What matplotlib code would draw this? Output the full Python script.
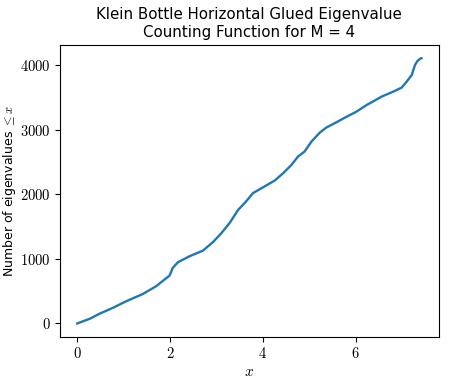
import matplotlib
matplotlib.use("Agg")
from matplotlib import pyplot as plt
from matplotlib.ticker import FuncFormatter

# eigenvalue counting function
x_vals = [0.0, 0.27, 0.48, 0.77, 1.06, 1.42, 1.70, 1.99, 2.06, 2.17, 2.42, 2.71,
          2.93, 3.11, 3.29, 3.47, 3.61, 3.79, 4.00, 4.26, 4.44, 4.62, 4.76, 4.90,
          5.05, 5.23, 5.37, 5.59, 5.77, 6.02, 6.24, 6.41, 6.56, 6.81, 6.99, 7.10,
          7.21, 7.28, 7.33, 7.40, 7.42]
counts = [0, 72, 150, 242, 345, 458, 576, 741, 860, 947, 1040, 1127,
          1262, 1400, 1560, 1760, 1864, 2018, 2105, 2214, 2327, 2456, 2584, 2661,
          2816, 2955, 3032, 3115, 3186, 3279, 3382, 3449, 3511, 3588, 3649, 3742,
          3846, 4000, 4060, 4103, 4105]
x_ticks = [0, 2, 4, 6]
y_ticks = [0, 1000, 2000, 3000, 4000]

plt.rcParams['mathtext.fontset'] = 'cm'
plt.rcParams['font.family'] = 'DejaVu Sans'

fig = plt.figure(figsize=(4.71, 3.79), dpi=100)
ax = fig.add_axes([0.1274, 0.1116, 0.804, 0.7697])
ax.plot(x_vals, counts, color='#1f77b4', lw=1.7)

ax.set_xticks(x_ticks)
ax.set_yticks(y_ticks)
ax.xaxis.set_major_formatter(FuncFormatter(lambda v, p: r'$%d$' % v))
ax.yaxis.set_major_formatter(FuncFormatter(lambda v, p: r'$%d$' % v))
ax.tick_params(labelsize=10.5)

ax.set_xlabel(r'$x$', fontsize=11)
ax.set_ylabel(r'Number of eigenvalues $\leq x$', fontsize=9)
ax.xaxis.set_label_coords(0.5, -0.095)
ax.yaxis.set_label_coords(-0.112, 0.5)
ax.set_title('Klein Bottle Horizontal Glued Eigenvalue\nCounting Function for M = 4',
             fontsize=10.8)

fig.savefig('out.png', dpi=100)
